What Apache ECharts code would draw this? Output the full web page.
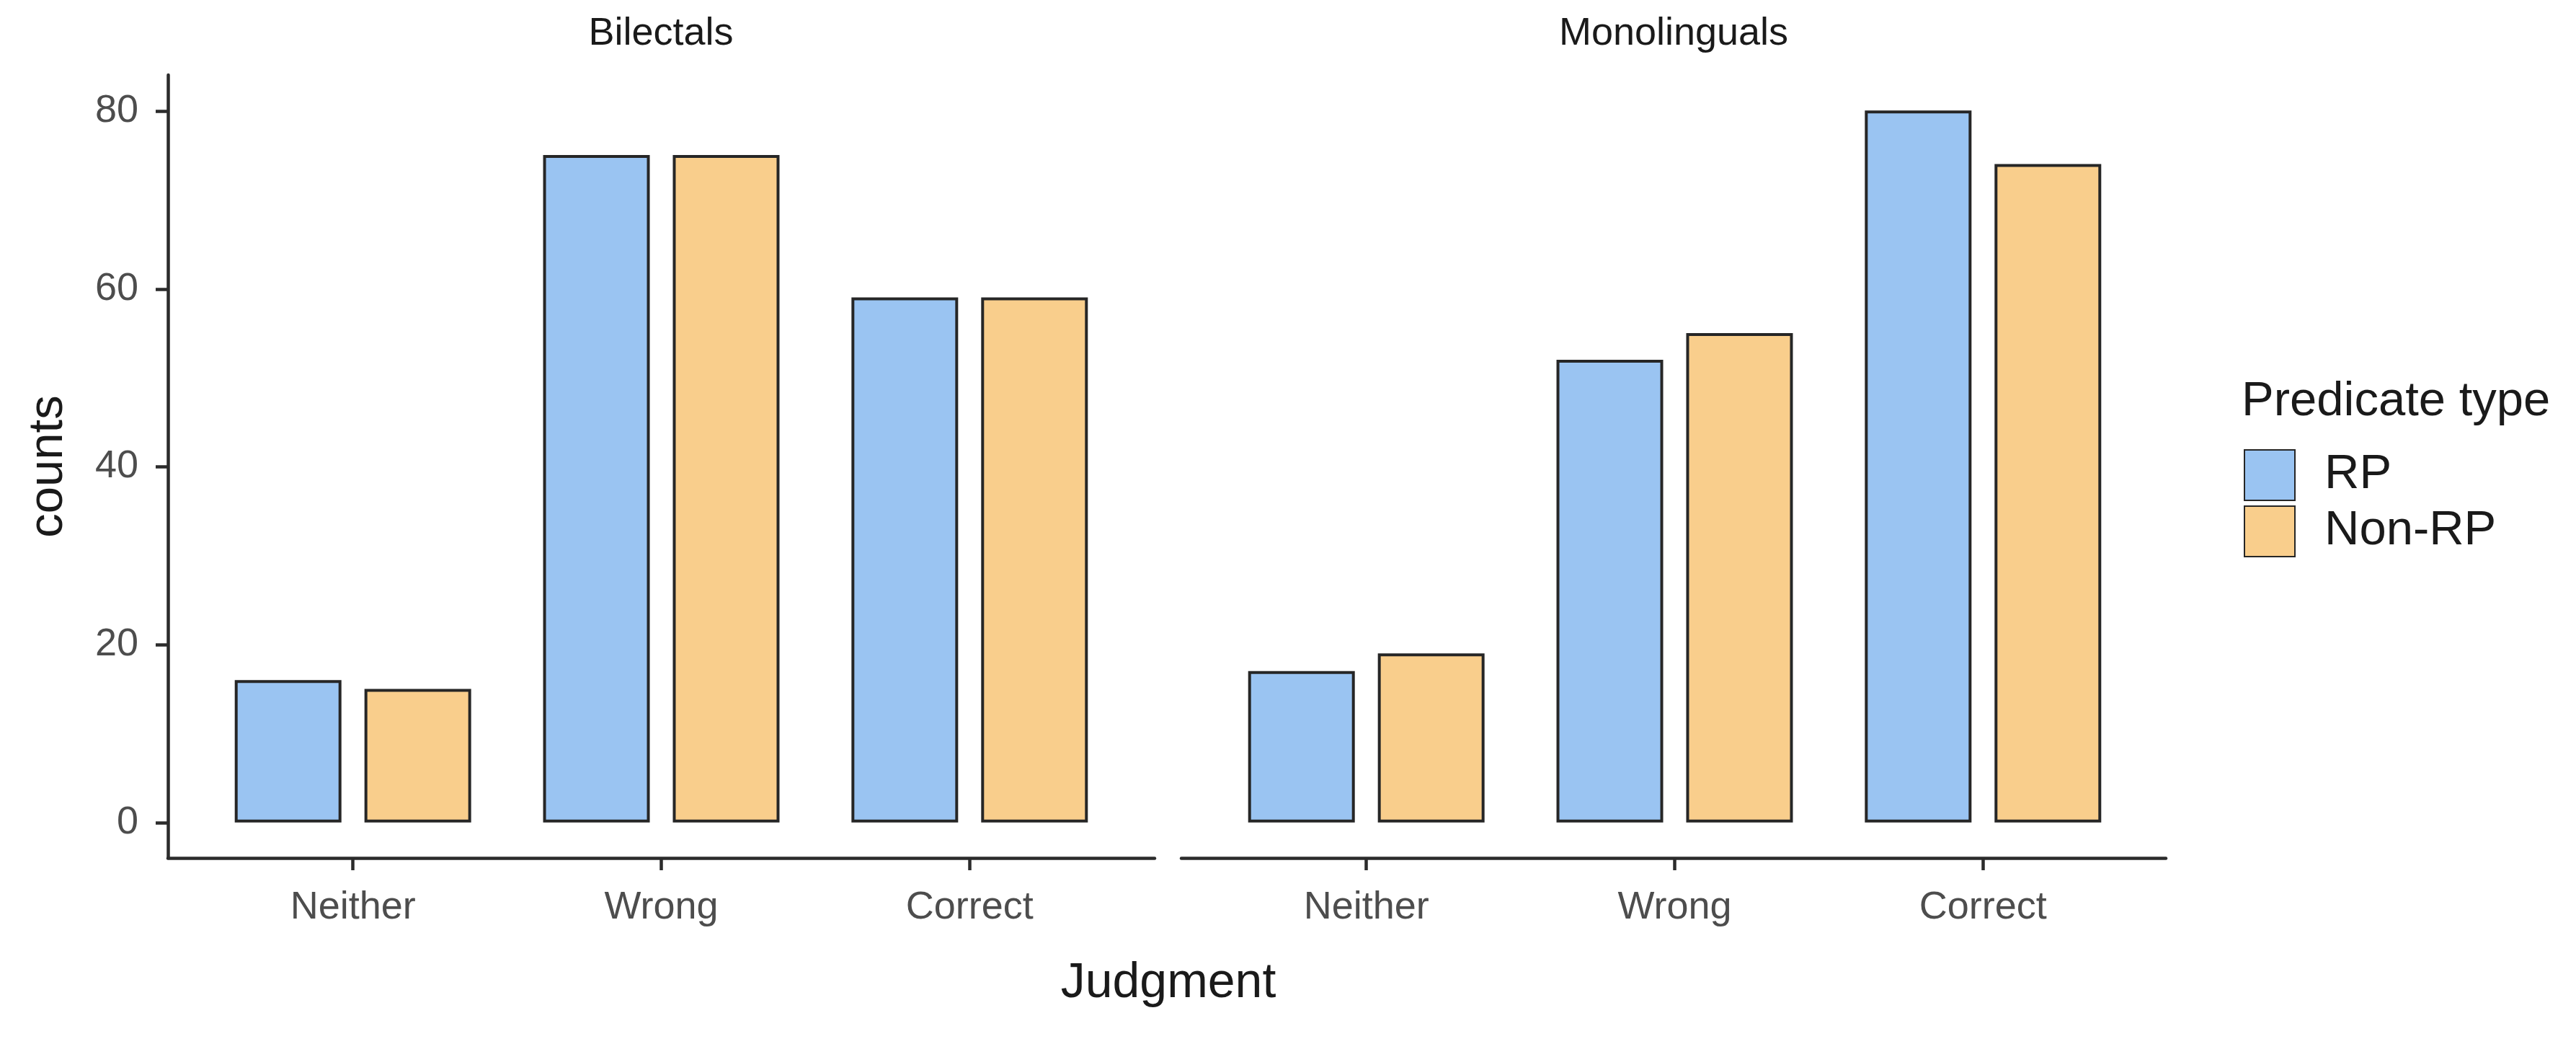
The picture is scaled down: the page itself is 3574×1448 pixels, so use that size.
<!DOCTYPE html>
<html>
<head>
<meta charset="utf-8">
<script src="https://cdn.jsdelivr.net/npm/echarts@6/dist/echarts.min.js"></script>
<style>
html,body{margin:0;padding:0;background:#fff;}
#chart{width:3574px;height:1448px;}
</style>
</head>
<body>
<div id="chart"></div>
<script>
// ---- data ----
const categories = ['Neither', 'Wrong', 'Correct'];
const panelNames = ['Bilectals', 'Monolinguals'];
const seriesNames = ['RP', 'Non-RP'];
const bilectalsRP = [16, 75, 59];
const bilectalsNonRP = [15, 75, 59];
const monolingualsRP = [17, 52, 80];
const monolingualsNonRP = [19, 55, 74];
const yMin = 0, yMax = 80, yStep = 20;
const yPad = 4; // ggplot-style 5% expansion of the y range
const xTitle = 'Judgment';
const yTitle = 'counts';
const legendTitle = 'Predicate type';

// ---- styles ----
const FONT = 'Liberation Sans, Arial, sans-serif';
const colors = ['#9AC4F2', '#F9CE8C'];
const borderCol = '#262626';
const lineCol = '#2b2b2b';

const chart = echarts.init(document.getElementById('chart'), null, {renderer: 'canvas'});

// geometry of panels
const panelTop = 104, panelBottomY = 1190;
const zeroY = 1141, topY = 154;
const outer = [{left: 233, width: 1369}, {left: 1639, width: 1366}];
const unit = 1369 / 3.2;
const inner = outer.map(o => ({left: o.left + 0.1 * unit, width: 3 * unit}));

const grids = [], xAxes = [], yAxes = [], series = [];
const values = [[bilectalsRP, bilectalsNonRP], [monolingualsRP, monolingualsNonRP]];

outer.forEach((o, p) => {
  // outer grid: axis lines only
  grids.push({left: o.left, top: panelTop, width: o.width, height: panelBottomY - panelTop});
  let gi = grids.length - 1;
  xAxes.push({
    type: 'value', gridIndex: gi, min: 0, max: 1,
    axisLine: {show: true, onZero: false, lineStyle: {color: lineCol, width: 4.5}},
    axisTick: {show: false}, axisLabel: {show: false}, splitLine: {show: false}
  });
  yAxes.push({
    type: 'value', gridIndex: gi, min: 0, max: 1,
    axisLine: {show: p === 0, onZero: false, lineStyle: {color: lineCol, width: 4.5}},
    axisTick: {show: false}, axisLabel: {show: false}, splitLine: {show: false},
    name: p === 0 ? yTitle : '', nameLocation: 'middle', nameRotate: 90, nameGap: 132,
    nameTextStyle: {fontSize: 67, color: '#1a1a1a', fontFamily: FONT}
  });
  // bar grid: same vertical extent, x padded by 0.6 category each side
  const inn = inner[p];
  grids.push({left: inn.left, top: panelTop, width: inn.width, height: panelBottomY - panelTop});
  gi = grids.length - 1;
  xAxes.push({
    type: 'category', gridIndex: gi, data: categories,
    axisLine: {show: false, onZero: false},
    axisTick: {show: true, alignWithLabel: true, length: 17, lineStyle: {color: lineCol, width: 4.5}},
    axisLabel: {fontSize: 54, color: '#4d4d4d', fontFamily: FONT, margin: 42},
    splitLine: {show: false}
  });
  yAxes.push({
    type: 'value', gridIndex: gi, min: yMin - yPad, max: yMax + yPad,
    show: false, splitLine: {show: false}
  });
  seriesNames.forEach((sn, s) => {
    series.push({
      type: 'bar', name: sn, xAxisIndex: gi, yAxisIndex: gi,
      data: values[p][s], barWidth: 148, barGap: '21.6%',
      itemStyle: {color: colors[s], borderColor: borderCol, borderWidth: 4},
      emphasis: {disabled: true}
    });
  });
  if (p === 0) {
    // tick/label grid for the y axis (0..80)
    grids.push({left: o.left, top: topY, width: o.width, height: zeroY - topY});
    gi = grids.length - 1;
    xAxes.push({type: 'value', gridIndex: gi, min: 0, max: 1, show: false});
    yAxes.push({
      type: 'value', gridIndex: gi, min: yMin, max: yMax, interval: yStep,
      axisLine: {show: false, onZero: false},
      axisTick: {show: true, length: 17, lineStyle: {color: lineCol, width: 4.5}},
      axisLabel: {fontSize: 54, color: '#4d4d4d', fontFamily: FONT, margin: 41},
      splitLine: {show: false}
    });
  }
});

const option = {
  backgroundColor: '#ffffff',
  animation: false,
  textStyle: {fontFamily: FONT},
  title: [
    {text: panelNames[0], left: 917, top: 20, textAlign: 'center', padding: 0,
     textStyle: {fontSize: 54, fontWeight: 'normal', color: '#1a1a1a', fontFamily: FONT}},
    {text: panelNames[1], left: 2322, top: 20, textAlign: 'center', padding: 0,
     textStyle: {fontSize: 54, fontWeight: 'normal', color: '#1a1a1a', fontFamily: FONT}},
    {text: xTitle, left: 1621, top: 1330, textAlign: 'center', padding: 0,
     textStyle: {fontSize: 68, fontWeight: 'normal', color: '#1a1a1a', fontFamily: FONT}},
    {text: legendTitle, left: 3110, top: 524, padding: 0,
     textStyle: {fontSize: 67, fontWeight: 'normal', color: '#1a1a1a', fontFamily: FONT}}
  ],
  legend: {
    data: seriesNames, orient: 'vertical', left: 3113, top: 623,
    itemWidth: 70, itemHeight: 70, itemGap: 6, padding: 0,
    icon: 'rect',
    textStyle: {fontSize: 67, color: '#1a1a1a', fontFamily: FONT, padding: [0, 0, 0, 36]},
    selectedMode: false
  },
  grid: grids,
  xAxis: xAxes,
  yAxis: yAxes,
  series: series
};
chart.setOption(option);
</script>
</body>
</html>
